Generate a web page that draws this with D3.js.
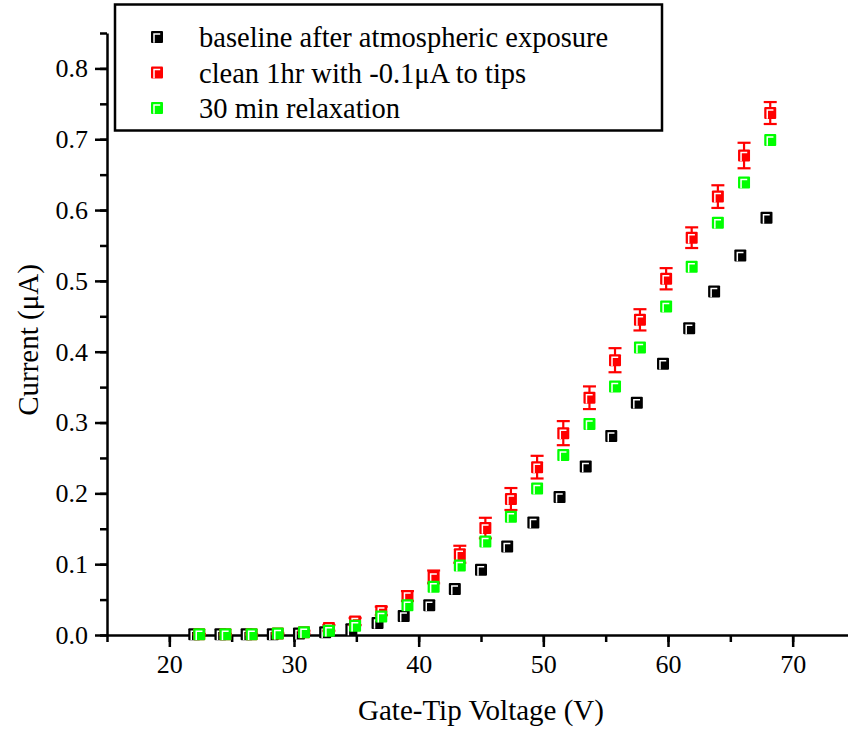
<!DOCTYPE html>
<html lang="en">
<head>
    <meta charset="UTF-8">
    <title>Gate-Tip Voltage vs Current</title>
    <script src="https://d3js.org/d3.v7.min.js"></script>
    <style>
        body { margin: 0; background: #fff; }
        svg { display: block; font-family: "Liberation Serif", "Times New Roman", serif; }
    </style>
</head>
<body>
<script>
    var w = 848;
    var h = 730;

    // baseline after atmospheric exposure
    var baseV = [22.0, 24.1, 26.2, 28.3, 30.4, 32.5, 34.6, 36.7, 38.8, 40.85, 42.9, 45.0,
                 47.1, 49.2, 51.3, 53.4, 55.45, 57.5, 59.6, 61.7, 63.7, 65.8, 67.9];
    var baseI = [0.001, 0.001, 0.001, 0.001, 0.002, 0.004, 0.008, 0.017, 0.027, 0.042, 0.065, 0.092,
                 0.125, 0.159, 0.195, 0.238, 0.281, 0.328, 0.383, 0.433, 0.485, 0.536, 0.589];

    // clean 1hr and 30 min relaxation share the same voltages
    var cleanV = [22.4, 24.5, 26.6, 28.7, 30.8, 32.8, 34.9, 37.0, 39.1, 41.2, 43.3, 45.35,
                  47.4, 49.5, 51.6, 53.7, 55.75, 57.75, 59.85, 61.9, 64.0, 66.1, 68.2];
    var cleanI = [0.001, 0.001, 0.001, 0.002, 0.004, 0.010, 0.019, 0.034, 0.055, 0.082, 0.114, 0.151,
                  0.192, 0.237, 0.285, 0.335, 0.388, 0.445, 0.503, 0.561, 0.619, 0.677, 0.737];
    var cleanErr = [0.0005, 0.0005, 0.0005, 0.001, 0.002, 0.004, 0.005, 0.006, 0.007, 0.009, 0.012, 0.0145,
                    0.0155, 0.016, 0.017, 0.016, 0.017, 0.015, 0.015, 0.0146, 0.016, 0.018, 0.0155];
    var relaxI = [0.001, 0.001, 0.001, 0.002, 0.004, 0.006, 0.013, 0.026, 0.042, 0.068, 0.098, 0.132,
                  0.167, 0.207, 0.254, 0.298, 0.351, 0.406, 0.464, 0.520, 0.582, 0.639, 0.699];

    var seriesNames = ["baseline after atmospheric exposure", "clean 1hr with -0.1\u03bcA to tips", "30 min relaxation"];
    var seriesColors = ["#000000", "#ff0000", "#00ff00"];

    var xTicks = [20, 30, 40, 50, 60, 70];
    var yTicks = [0.0, 0.1, 0.2, 0.3, 0.4, 0.5, 0.6, 0.7, 0.8];

    var xScale = d3.scaleLinear().domain([15, 75]).range([107, 855]);
    var yScale = d3.scaleLinear().domain([0, 0.85]).range([635, 33]);

    var svg = d3.select("body").append("svg")
        .attr("width", w)
        .attr("height", h);

    // minor ticks first, then major axes on top
    svg.append("g")
        .attr("transform", "translate(0,635)")
        .call(d3.axisBottom(xScale).tickValues(d3.range(15, 76, 5)).tickSize(7).tickSizeOuter(0).tickFormat(""))
        .call(function(g) { g.select(".domain").remove(); })
        .selectAll("line").attr("stroke-width", 2.5);

    svg.append("g")
        .attr("transform", "translate(107,0)")
        .call(d3.axisLeft(yScale).tickValues(d3.range(0, 0.86, 0.05)).tickSize(7).tickSizeOuter(0).tickFormat(""))
        .call(function(g) { g.select(".domain").remove(); })
        .selectAll("line").attr("stroke-width", 2.5);

    var xAxis = svg.append("g")
        .attr("transform", "translate(0,635)")
        .call(d3.axisBottom(xScale).tickValues(xTicks).tickSize(12).tickSizeOuter(0).tickPadding(8));
    xAxis.select(".domain").attr("stroke-width", 2.5);
    xAxis.selectAll("line").attr("stroke-width", 2.5);
    xAxis.selectAll("text").attr("font-size", "26px").attr("font-family", "Liberation Serif").attr("fill", "#000");

    var yAxis = svg.append("g")
        .attr("transform", "translate(107,0)")
        .call(d3.axisLeft(yScale).tickValues(yTicks).tickSize(12).tickSizeOuter(0).tickPadding(7)
            .tickFormat(d3.format(".1f")));
    yAxis.select(".domain").attr("stroke-width", 2.5);
    yAxis.selectAll("line").attr("stroke-width", 2.5);
    yAxis.selectAll("text").attr("font-size", "26px").attr("font-family", "Liberation Serif").attr("fill", "#000");

    // axis titles
    svg.append("text")
        .attr("x", 481)
        .attr("y", 720)
        .attr("text-anchor", "middle")
        .attr("font-size", "29px")
        .text("Gate-Tip Voltage (V)");

    svg.append("text")
        .attr("transform", "translate(38,340) rotate(-90)")
        .attr("text-anchor", "middle")
        .attr("font-size", "29px")
        .text("Current (\u03bcA)");

    // square marker with white corner highlight
    function drawMarker(g, cx, cy, color) {
        g.append("rect")
            .attr("x", cx - 6)
            .attr("y", cy - 6)
            .attr("width", 12)
            .attr("height", 12)
            .attr("rx", 1)
            .attr("fill", color);
        g.append("path")
            .attr("d", "M" + (cx - 3) + "," + (cy + 5.8) + "V" + (cy - 3) + "H" + (cx + 3.2))
            .attr("fill", "none")
            .attr("stroke", "#fff")
            .attr("stroke-width", 1.5);
    }

    var plot = svg.append("g");

    // baseline
    baseV.forEach(function(v, i) {
        drawMarker(plot, xScale(v), yScale(baseI[i]), seriesColors[0]);
    });

    // clean with error bars
    cleanV.forEach(function(v, i) {
        var cx = xScale(v);
        var yTop = yScale(cleanI[i] + cleanErr[i]);
        var yBot = yScale(cleanI[i] - cleanErr[i]);
        plot.append("line")
            .attr("x1", cx).attr("x2", cx)
            .attr("y1", yTop).attr("y2", yBot)
            .attr("stroke", seriesColors[1]).attr("stroke-width", 2.2);
        [yTop, yBot].forEach(function(yc) {
            plot.append("line")
                .attr("x1", cx - 6.5).attr("x2", cx + 6.5)
                .attr("y1", yc).attr("y2", yc)
                .attr("stroke", seriesColors[1]).attr("stroke-width", 2.2);
        });
        drawMarker(plot, cx, yScale(cleanI[i]), seriesColors[1]);
    });

    // relaxation
    cleanV.forEach(function(v, i) {
        drawMarker(plot, xScale(v), yScale(relaxI[i]), seriesColors[2]);
    });

    // legend
    var legend = svg.append("g");
    legend.append("rect")
        .attr("x", 115)
        .attr("y", 4.5)
        .attr("width", 547)
        .attr("height", 126)
        .attr("fill", "#fff")
        .attr("stroke", "#000")
        .attr("stroke-width", 2.5);

    seriesNames.forEach(function(name, i) {
        var ly = 37 + i * 35.5;
        drawMarker(legend, 157, ly, seriesColors[i]);
        legend.append("text")
            .attr("x", 199)
            .attr("y", ly + 10)
            .attr("font-size", "28.5px")
            .text(name);
    });
</script>
</body>
</html>
